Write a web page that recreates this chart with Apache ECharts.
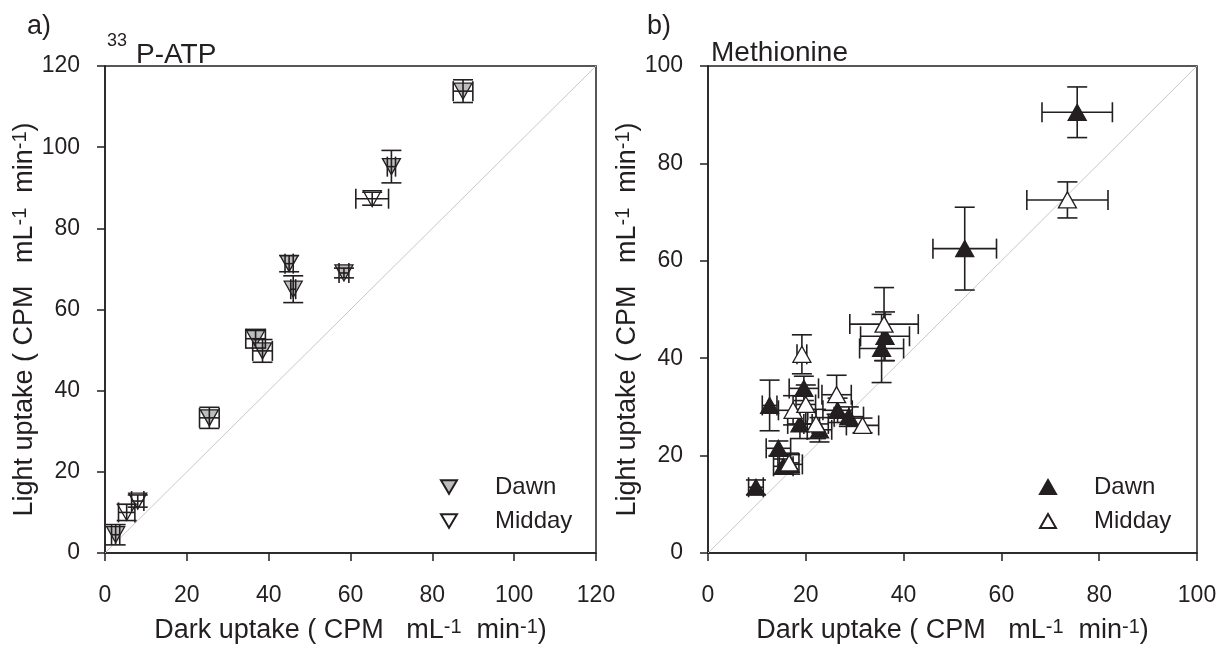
<!DOCTYPE html>
<html>
<head>
<meta charset="utf-8">
<script src="https://cdn.jsdelivr.net/npm/echarts@6/dist/echarts.min.js"></script>
<style>
  html, body { margin: 0; background: #fff; }
  #chart { width: 1229px; height: 649px; }
</style>
</head>
<body>
<div id="chart"></div>
<script>
// Panel a) 33P-ATP : [dark, light, darkErr, lightErr]
const atpDawn = [
    [87.5, 113.8, 2.4, 2.8],
    [70, 95.2, 1, 4],
    [58.4, 69, 1.2, 1.2],
    [45, 71.3, 1, 2],
    [46, 65, 0.6, 3.3],
    [36.8, 52.8, 2.4, 2.3],
    [38.5, 49.8, 2.4, 2.8],
    [25.5, 33.3, 2.4, 2.6],
    [2.6, 4.5, 1, 2.5]
];
const atpMidday = [
    [65.3, 87.3, 4, 1.6],
    [8, 12.8, 1.5, 1.5],
    [5.3, 10, 2, 2]
];

// Panel b) Methionine : [dark, light, darkErr, lightErr]
const metDawn = [
    [75.5, 90.5, 7.2, 5.2],
    [52.5, 62.5, 6.5, 8.5],
    [36.2, 44.5, 5, 5],
    [35.5, 42, 4.5, 7],
    [19.6, 33.8, 3, 2.5],
    [12.6, 30.3, 1.5, 5.2],
    [26.5, 29.3, 3, 2.5],
    [28.8, 28, 3, 2],
    [22.8, 25.3, 2.5, 2.5],
    [18.8, 26.5, 2.5, 3],
    [14.4, 21.5, 2.5, 1.5],
    [16.8, 18.2, 2.5, 2],
    [15.4, 17.8, 2, 1.5],
    [9.8, 13.5, 1.5, 1.5]
];
const metMidday = [
    [73.5, 72.5, 8.3, 3.7],
    [36, 47, 7, 7.5],
    [19.2, 40.8, 1, 4],
    [26.3, 32.5, 3, 4],
    [17.4, 29.3, 3, 3],
    [20, 30.5, 2, 4],
    [22.1, 26.5, 2.5, 3],
    [31.6, 26.2, 3.3, 1.5],
    [16.6, 18.5, 2, 2]
];

const atpTicks = { max: 120, step: 20 };
const metTicks = { max: 100, step: 20 };

const INK = '#231f20';
const FONT = 'Liberation Sans, Arial, sans-serif';
const DOWN = 'path://M0,0L20,0L10,17Z';   // downward triangle for panel a

const chart = echarts.init(document.getElementById('chart'));

// error bars with caps, drawn through the axis scales
const errorBars = (params, api) => {
    const x = api.value(0), y = api.value(1);
    const ex = api.value(2), ey = api.value(3);
    const l = api.coord([x - ex, y]), r = api.coord([x + ex, y]);
    const t = api.coord([x, y + ey]), b = api.coord([x, y - ey]);
    const w = 10;
    const style = { stroke: INK, lineWidth: 1.6, fill: null };
    const seg = (x1, y1, x2, y2) => ({ type: 'line', shape: { x1, y1, x2, y2 }, style });
    return {
        type: 'group',
        children: [
            seg(l[0], l[1], r[0], r[1]),
            seg(l[0], l[1] - w, l[0], l[1] + w),
            seg(r[0], r[1] - w, r[0], r[1] + w),
            seg(t[0], t[1], b[0], b[1]),
            seg(t[0] - w, t[1], t[0] + w, t[1]),
            seg(b[0] - w, b[1], b[0] + w, b[1])
        ]
    };
};

const unitRich = {
    base: { fontSize: 27, fontFamily: FONT, color: INK },
    sup: { fontSize: 20, fontFamily: FONT, color: INK, verticalAlign: 'top' }
};
const unitName = (lead) => '{base|' + lead + ' ( CPM   mL}{sup|-1}{base|  min}{sup|-1}{base|)}';

const makeAxis = (gridIndex, ticks, name, gap) => ({
    type: 'value',
    gridIndex: gridIndex,
    min: 0,
    max: ticks.max,
    interval: ticks.step,
    axisLine: { show: true, onZero: false, lineStyle: { color: INK, width: 1.5 } },
    axisTick: { show: true, inside: false, length: 8, lineStyle: { color: INK, width: 1.5 } },
    axisLabel: { color: INK, fontSize: 23, fontFamily: FONT, margin: gap.label },
    splitLine: { show: false },
    name: unitName(name),
    nameLocation: 'middle',
    nameGap: gap.name,
    nameTextStyle: { rich: unitRich, padding: gap.pad || 0 }
});

const scatter = (name, data, xi, symbol, fill, z) => ({
    name: name,
    type: 'scatter',
    xAxisIndex: xi,
    yAxisIndex: xi,
    data: data.map(d => [d[0], d[1]]),
    symbol: symbol,
    symbolSize: [18, 16],
    itemStyle: { color: fill, borderColor: INK, borderWidth: 1.3, opacity: 1 },
    z: z,
    silent: true
});

const bars = (data, xi, z) => ({
    type: 'custom',
    xAxisIndex: xi,
    yAxisIndex: xi,
    renderItem: errorBars,
    encode: { x: 0, y: 1 },
    data: data,
    z: z,
    silent: true
});

const diagonal = (xi, max) => ({
    type: 'line',
    xAxisIndex: xi,
    yAxisIndex: xi,
    data: [[0, 0], [max, max]],
    showSymbol: false,
    lineStyle: { color: '#c8c8c8', width: 1 },
    z: 1,
    silent: true
});

const legendStyle = {
    orient: 'vertical',
    itemWidth: 16,
    itemHeight: 14,
    itemGap: 10,
    formatter: n => n.slice(1),
    selectedMode: false,
    textStyle: { color: INK, fontSize: 24, fontFamily: FONT, padding: [0, 0, 0, 33] }
};

const plain = (size) => ({ color: INK, fontSize: size, fontWeight: 'normal', fontFamily: FONT });

chart.setOption({
    animation: false,
    backgroundColor: '#fff',
    title: [
        { text: 'a)', left: 22, top: 8, textStyle: plain(27) },
        { text: 'b)', left: 642, top: 8, textStyle: plain(27) },
        { text: '33', left: 102, top: 27, textStyle: plain(18) },
        { text: 'P-ATP', left: 131, top: 36, textStyle: plain(28) },
        { text: 'Methionine', left: 706, top: 34, textStyle: plain(28) }
    ],
    grid: [
        { left: 105, top: 66, width: 491, height: 491, show: true, borderColor: INK, borderWidth: 1.5, backgroundColor: 'transparent' },
        { left: 708, top: 66, width: 489, height: 491, show: true, borderColor: INK, borderWidth: 1.5, backgroundColor: 'transparent' }
    ],
    xAxis: [
        makeAxis(0, atpTicks, 'Dark uptake', { label: 31, name: 64 }),
        makeAxis(1, metTicks, 'Dark uptake', { label: 31, name: 64 })
    ],
    yAxis: [
        makeAxis(0, atpTicks, 'Light uptake', { label: 25, name: 55, pad: [0, 20, 0, 0] }),
        makeAxis(1, metTicks, 'Light uptake', { label: 25, name: 50, pad: [0, 20, 0, 0] })
    ],
    legend: [
        Object.assign({ data: ['aDawn', 'aMidday'], left: 435, top: 470 }, legendStyle),
        Object.assign({ data: ['bDawn', 'bMidday'], left: 1034, top: 470 }, legendStyle)
    ],
    series: [
        diagonal(0, atpTicks.max),
        diagonal(1, metTicks.max),
        scatter('aDawn', atpDawn, 0, DOWN, '#bdbdbd', 3),
        scatter('aMidday', atpMidday, 0, DOWN, '#ffffff', 3),
        bars(atpDawn, 0, 4),
        bars(atpMidday, 0, 4),
        bars(metDawn, 1, 2),
        bars(metMidday, 1, 2),
        scatter('bDawn', metDawn, 1, 'triangle', INK, 3),
        scatter('bMidday', metMidday, 1, 'triangle', '#ffffff', 3)
    ]
});
</script>
</body>
</html>
